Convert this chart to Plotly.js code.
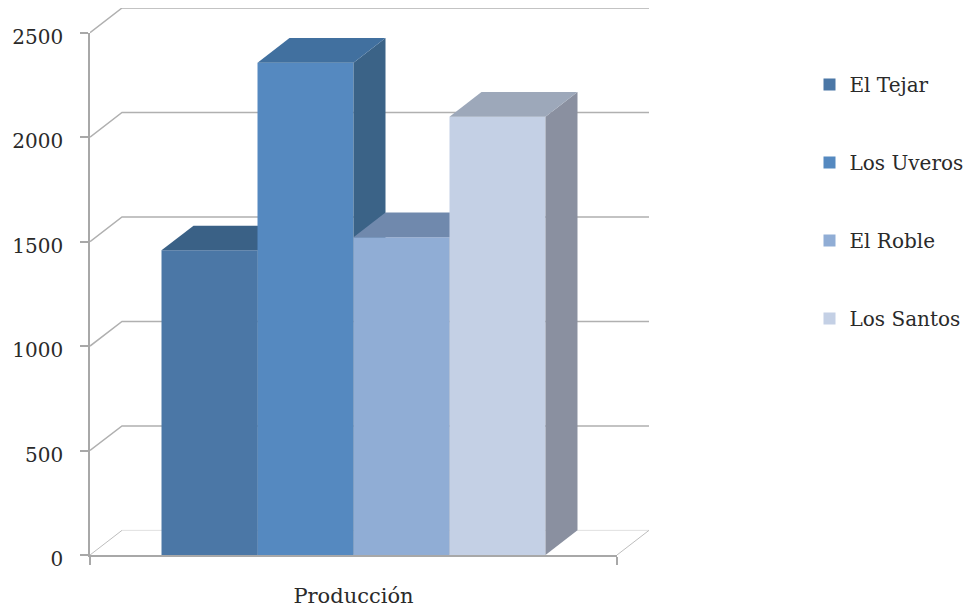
<!DOCTYPE html>
<html><head><meta charset="utf-8">
<script src="https://cdn.plot.ly/plotly-3.0.1.min.js"></script>
<style>html,body{margin:0;padding:0;background:#fff}</style></head>
<body><div id="chart" style="width:968px;height:610px"></div>
<script>
const category = 'Producción';
const seriesNames = ['El Tejar', 'Los Uveros', 'El Roble', 'Los Santos'];
const seriesValues = [1458, 2356, 1521, 2098];
const yTicks = [0, 500, 1000, 1500, 2000, 2500];
const frontColors = ['#4B77A6', '#5589C0', '#90ADD5', '#C4D0E5'];
const topColors = ['#3A6186', '#41709F', '#7089AD', '#9DA8BA'];
const sideColors = ['#3A6186', '#3B6387', '#6A82A3', '#8A90A0'];

const depthX = 1 / 3, depthY = 118;
const xMin = -1.245, xMax = 4.245, yMax = 2500;
const xEnd = xMax + depthX, yEnd = yMax + depthY;
const axisColor = '#A8A8A8', gridColor = '#B0B0B0', floorColor = '#E0E0E0', diagColor = '#BDBDBD', font = 'DejaVu Serif';

const traces = [];
function line(xs, ys, color, width) {
  traces.push({type: 'scatter', mode: 'lines', x: xs, y: ys, xaxis: 'x', yaxis: 'y',
    line: {color: color, width: width}, showlegend: false, hoverinfo: 'skip'});
}
yTicks.forEach(v => {
  if (v === 0) {
    line([xMin, xMin + depthX], [0, depthY], diagColor, 1);
    line([xMin + depthX, xEnd], [depthY, depthY], floorColor, 1);
  } else {
    line([xMin, xMin + depthX, xEnd], [v, v + depthY, v + depthY], gridColor, 1.5);
  }
});
line([xMax, xEnd], [0, depthY], diagColor, 1);

const layout = {
  width: 968, height: 610, showlegend: true,
  paper_bgcolor: '#fff', plot_bgcolor: 'rgba(0,0,0,0)',
  margin: {l: 90, r: 319, t: 8, b: 55, autoexpand: false},
  font: {family: font, size: 20, color: '#2A2A2A'},
  xaxis: {range: [xMin, xEnd], visible: false},
  yaxis: {range: [0, yEnd], visible: false},
  // The front plane: a shorter pair of axes that stop where the 3-D walls begin.
  xaxis6: {domain: [0, (xMax - xMin) / (xEnd - xMin)], range: [xMin, xMax], anchor: 'y6',
    showgrid: false, zeroline: false, showline: true, linecolor: axisColor, linewidth: 1.5,
    tickmode: 'array', tickvals: [1.5], ticktext: [category], ticks: '', ticklabelstandoff: 21,
    tickfont: {family: font, size: 21, color: '#2A2A2A'},
    minor: {tickmode: 'array', tickvals: [xMin, xMax], ticks: 'outside', ticklen: 8, tickcolor: axisColor, tickwidth: 1.5, showgrid: false}},
  yaxis6: {domain: [0, yMax / yEnd], range: [0, yMax], anchor: 'x6',
    showgrid: false, zeroline: false, showline: true, linecolor: axisColor, linewidth: 1.5,
    tickmode: 'array', tickvals: yTicks, ticks: 'outside', ticklen: 8, tickcolor: axisColor, tickwidth: 1.5,
    ticklabelstandoff: 13, ticklabelshift: 4},
  legend: {x: (809.5 - 90) / 559, xanchor: 'left', y: 0.896, yanchor: 'top', tracegroupgap: 49,
    font: {family: font, size: 20, color: '#2A2A2A'}, bgcolor: 'rgba(0,0,0,0)'}
};

seriesNames.forEach((name, i) => {
  const n = i + 2, xa = 'x' + n, ya = 'y' + n;
  layout['xaxis' + n] = {range: [xMin, xEnd], overlaying: 'x', visible: false, anchor: ya};
  layout['yaxis' + n] = {range: [0, yEnd], overlaying: 'y', visible: false, anchor: xa};
  const v = seriesValues[i], r = i + 0.5, l = i - 0.5;
  traces.push({type: 'bar', x: [i], y: [v], width: [1], name: name, legendgroup: name, xaxis: xa, yaxis: ya,
    marker: {color: frontColors[i], line: {width: 0}}, hovertemplate: name + ': %{y}<extra></extra>'});
  traces.push({type: 'scatter', mode: 'none', fill: 'toself', fillcolor: sideColors[i], xaxis: xa, yaxis: ya,
    x: [r, r + depthX, r + depthX, r, r], y: [0, depthY, v + depthY, v, 0],
    showlegend: false, hoverinfo: 'skip'});
  traces.push({type: 'scatter', mode: 'none', fill: 'toself', fillcolor: topColors[i], xaxis: xa, yaxis: ya,
    x: [l, l + depthX, r + depthX, r, l], y: [v, v + depthY, v + depthY, v, v],
    showlegend: false, hoverinfo: 'skip'});
});
traces.push({type: 'scatter', mode: 'none', x: [xMin], y: [0], xaxis: 'x6', yaxis: 'y6', showlegend: false, hoverinfo: 'skip'});

Plotly.newPlot('chart', traces, layout, {displayModeBar: false});
</script></body></html>
